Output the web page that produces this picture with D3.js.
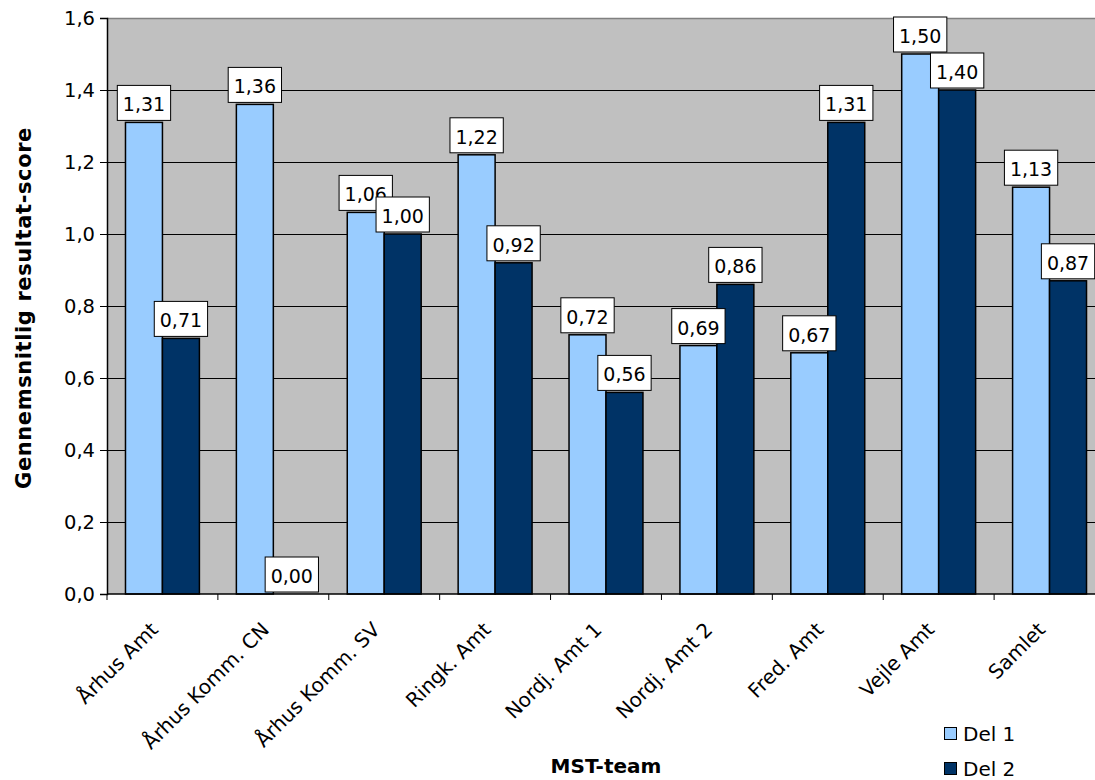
<!DOCTYPE html>
<html>
<head>
<meta charset="utf-8">
<script src="https://cdn.jsdelivr.net/npm/d3@7"></script>
<style>
  html, body { margin: 0; padding: 0; background: #fff; }
  svg { display: block; font-family: "DejaVu Sans", Verdana, sans-serif; }
</style>
</head>
<body>
<svg id="chart" width="1095" height="780"></svg>
<script>
// Team names along the x axis
const categories = ["Århus Amt", "Århus Komm. CN", "Århus Komm. SV", "Ringk. Amt",
  "Nordj. Amt 1", "Nordj. Amt 2", "Fred. Amt", "Vejle Amt", "Samlet"];
// Average result score per part
const del1 = [1.31, 1.36, 1.06, 1.22, 0.72, 0.69, 0.67, 1.50, 1.13];
const del2 = [0.71, 0.00, 1.00, 0.92, 0.56, 0.86, 1.31, 1.40, 0.87];
const seriesNames = ["Del 1", "Del 2"];
const yTicks = [0, 0.2, 0.4, 0.6, 0.8, 1.0, 1.2, 1.4, 1.6];

const colors = ["#99CCFF", "#003366"];
const fmt = v => d3.format(".2f")(v).replace(".", ",");
const fmtTick = v => d3.format(".1f")(v).replace(".", ",");

const svg = d3.select("#chart");
const plot = { left: 107, right: 1105, top: 18, bottom: 594 };

const x = d3.scaleBand().domain(categories).range([plot.left, plot.right]).paddingInner(0).paddingOuter(0);
const y = d3.scaleLinear().domain([0, 1.6]).range([plot.bottom, plot.top]);
const barW = x.bandwidth() / 3;

// Plot background
svg.append("rect")
  .attr("x", plot.left).attr("y", plot.top)
  .attr("width", plot.right - plot.left).attr("height", plot.bottom - plot.top)
  .attr("fill", "#C0C0C0");

// Gridlines
svg.append("g").selectAll("line")
  .data(yTicks.filter(t => t > 0 && t < 1.6))
  .join("line")
  .attr("x1", plot.left).attr("x2", plot.right)
  .attr("y1", d => Math.round(y(d)) + 0.5).attr("y2", d => Math.round(y(d)) + 0.5)
  .attr("stroke", "#000").attr("stroke-width", 1);

// Top border of the plot area
svg.append("line")
  .attr("x1", plot.left).attr("x2", plot.right)
  .attr("y1", Math.round(y(1.6)) + 0.5).attr("y2", Math.round(y(1.6)) + 0.5)
  .attr("stroke", "#808080").attr("stroke-width", 1.5);

// Bars
const series = [del1, del2];
const bars = svg.append("g");
series.forEach((vals, si) => {
  bars.selectAll(null)
    .data(categories.map((c, i) => ({ c, v: vals[i] })))
    .join("rect")
    .attr("x", d => x(d.c) + x.bandwidth() / 2 - barW + si * barW)
    .attr("y", d => y(d.v))
    .attr("width", barW)
    .attr("height", d => y(0) - y(d.v))
    .attr("fill", colors[si])
    .attr("stroke", "#000")
    .attr("stroke-width", d => d.v > 0 ? 1.5 : 0);
});

// Y axis
const yAxis = d3.axisLeft(y).tickValues(yTicks).tickFormat(fmtTick).tickSize(7).tickPadding(5);
const gy = svg.append("g").attr("transform", `translate(${plot.left},0)`).call(yAxis);
gy.select(".domain").attr("stroke", "#000").attr("stroke-width", 1.5);
gy.selectAll(".tick line").attr("stroke", "#000");
gy.selectAll(".tick text").attr("font-size", 19.5).attr("fill", "#000")
  .attr("font-family", "DejaVu Sans, Verdana, sans-serif");

// X axis: ticks between categories
const xAxisLine = svg.append("g");
xAxisLine.append("line")
  .attr("x1", plot.left).attr("x2", plot.right)
  .attr("y1", plot.bottom).attr("y2", plot.bottom)
  .attr("stroke", "#000").attr("stroke-width", 1.5);
xAxisLine.selectAll(".xt")
  .data(categories)
  .join("line")
  .attr("x1", d => x(d)).attr("x2", d => x(d))
  .attr("y1", plot.bottom).attr("y2", plot.bottom + 6)
  .attr("stroke", "#000");

// Category labels rotated 45°
svg.append("g").selectAll("text")
  .data(categories)
  .join("text")
  .attr("transform", d => `translate(${x(d) + x.bandwidth() / 2 - 13},${plot.bottom + 27}) rotate(-45)`)
  .attr("text-anchor", "end")
  .attr("dy", "0.7em")
  .attr("font-size", 20)
  .text(d => d);

// Value labels in white boxes
const labels = svg.append("g");
series.forEach((vals, si) => {
  vals.forEach((v, i) => {
    const cx = x(categories[i]) + x.bandwidth() / 2 - barW + si * barW + barW / 2;
    const bottom = y(v) - 2;
    const g = labels.append("g");
    const t = g.append("text")
      .attr("x", cx).attr("y", bottom - 9)
      .attr("text-anchor", "middle")
      .attr("font-size", 19)
      .text(fmt(v));
    const w = t.node().getComputedTextLength() + 11;
    g.insert("rect", "text")
      .attr("x", cx - w / 2).attr("y", bottom - 35)
      .attr("width", w).attr("height", 35)
      .attr("fill", "#fff").attr("stroke", "#000").attr("stroke-width", 1);
  });
});

// Axis titles
svg.append("text")
  .attr("transform", `translate(31,${(plot.top + plot.bottom) / 2 + 2}) rotate(-90)`)
  .attr("text-anchor", "middle")
  .attr("font-size", 21).attr("font-weight", "bold")
  .attr("letter-spacing", 0.6)
  .text("Gennemsnitlig resultat-score");

svg.append("text")
  .attr("x", (plot.left + plot.right) / 2).attr("y", 773)
  .attr("text-anchor", "middle")
  .attr("font-size", 20).attr("font-weight", "bold")
  .text("MST-team");

// Legend
const legend = svg.append("g").attr("transform", "translate(944,727)");
seriesNames.forEach((name, i) => {
  const g = legend.append("g").attr("transform", `translate(0,${i * 35})`);
  g.append("rect").attr("x", 0.5).attr("y", 0.5).attr("width", 12).attr("height", 12)
    .attr("fill", colors[i]).attr("stroke", "#000").attr("stroke-width", 1);
  g.append("text").attr("x", 19).attr("y", 13.5).attr("font-size", 20).text(name);
});
</script>
</body>
</html>
